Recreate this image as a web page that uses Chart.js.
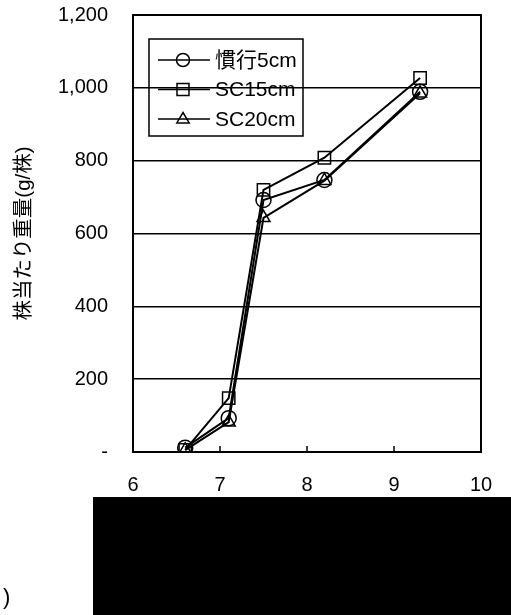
<!DOCTYPE html>
<html>
<head>
<meta charset="utf-8">
<script src="https://cdn.jsdelivr.net/npm/chart.js@4/dist/chart.umd.min.js"></script>
<style>
  html, body { margin: 0; padding: 0; background: #fff; }
  #wrap { width: 511px; height: 615px; position: relative; }
</style>
</head>
<body>
<div id="wrap"><canvas id="growth-chart" width="511" height="615"></canvas></div>
<script>
// values
let xValues = [6.6, 7.1, 7.5, 8.2, 9.3]
let conv5cm = [12, 93, 692, 747, 989]
let sc15cm = [6, 148, 720, 808, 1027]
let sc20cm = [5, 82, 643, 745, 985]

let seriesNames = ['慣行5cm', 'SC15cm', 'SC20cm']
let yTickLabels = ['-', '200', '400', '600', '800', '1,000', '1,200']
let xTickLabels = ['6', '7', '8', '9', '10']
let yTitle = '株当たり重量(g/株)'

let fontFam = 'Arial, "Liberation Sans", "Noto Sans CJK JP", sans-serif'

function toPoints(ys) {
    return ys.map((y, i) => ({x: xValues[i], y: y}))
}

// small marker shapes for the legend box
function marker(ctx, style, x, y, r) {
    ctx.beginPath()
    if (style == 'circle') {
        ctx.arc(x, y, r, 0, Math.PI * 2)
    } else if (style == 'rect') {
        ctx.rect(x - r, y - r, r * 2, r * 2)
    } else {
        ctx.moveTo(x, y - r)
        ctx.lineTo(x + r * 0.95, y + r * 0.6)
        ctx.lineTo(x - r * 0.95, y + r * 0.6)
        ctx.closePath()
    }
    ctx.stroke()
}

let framePlugin = {
    id: 'frame',
    beforeDraw(chart) {
        // legend box sits under the gridlines
        let ctx = chart.ctx
        let a = chart.chartArea
        let bx = a.left + 16, by = a.top + 24
        ctx.save()
        ctx.strokeStyle = '#000'
        ctx.lineWidth = 1.5
        ctx.strokeRect(bx, by, 154, 97)
        ctx.font = '21px ' + fontFam
        ctx.textBaseline = 'middle'
        ctx.fillStyle = '#000'
        let sizes = [6.5, 6, 6.5]
        chart.data.datasets.forEach((ds, i) => {
            let ry = by + 21 + i * 29.5
            ctx.lineWidth = 1.5
            ctx.beginPath()
            ctx.moveTo(bx + 9, ry)
            ctx.lineTo(bx + 61, ry)
            ctx.stroke()
            marker(ctx, ds.pointStyle, bx + 34, ry, sizes[i])
            ctx.fillText(ds.label, bx + 66, ry + 1)
        })
        ctx.restore()
    },
    afterDraw(chart) {
        let ctx = chart.ctx
        let a = chart.chartArea
        let xs = chart.scales.x
        ctx.save()
        ctx.strokeStyle = '#000'
        ctx.lineWidth = 2
        // top and right frame
        ctx.beginPath()
        ctx.moveTo(a.left, a.top)
        ctx.lineTo(a.right, a.top)
        ctx.lineTo(a.right, a.bottom)
        ctx.stroke()
        // inward tick marks on x axis
        ctx.lineWidth = 1.5
        xs.ticks.forEach((t, i) => {
            if (i == 0 || i == xs.ticks.length - 1) return
            let px = xs.getPixelForValue(t.value)
            ctx.beginPath()
            ctx.moveTo(px, a.bottom)
            ctx.lineTo(px, a.bottom - 6)
            ctx.stroke()
        })
        // blacked out block and stray bracket
        ctx.fillStyle = '#000'
        ctx.fillRect(93, 497, 418, 118)
        ctx.font = '22px ' + fontFam
        ctx.textBaseline = 'alphabetic'
        ctx.fillText(')', 3, 604)
        ctx.restore()
    }
}

new Chart(document.getElementById('growth-chart'), {
    type: 'line',
    data: {
        datasets: [
            {label: seriesNames[0], data: toPoints(conv5cm), pointStyle: 'circle', pointRadius: 7.5},
            {label: seriesNames[1], data: toPoints(sc15cm), pointStyle: 'rect', pointRadius: 8.7},
            {label: seriesNames[2], data: toPoints(sc20cm), pointStyle: 'triangle', pointRadius: 7.5}
        ].map(ds => Object.assign(ds, {
            borderColor: '#000',
            borderWidth: 2,
            pointBorderColor: '#000',
            pointBackgroundColor: 'rgba(0,0,0,0)',
            pointBorderWidth: 1.5,
            tension: 0,
            fill: false
        }))
    },
    options: {
        responsive: false,
        animation: false,
        layout: {autoPadding: false, padding: {top: 15, right: 30, left: 0, bottom: 0}},
        plugins: {
            legend: {display: false},
            tooltip: {enabled: false}
        },
        scales: {
            x: {
                type: 'linear',
                min: 6,
                max: 10,
                afterFit: s => { s.height = 163; s.paddingLeft = 0; s.paddingRight = 0 },
                grid: {display: false},
                border: {color: '#000', width: 2},
                ticks: {
                    stepSize: 1,
                    padding: 13,
                    color: '#000',
                    font: {family: fontFam, size: 20},
                    callback: (v, i) => xTickLabels[i]
                }
            },
            y: {
                min: 0,
                max: 1200,
                afterFit: s => { s.width = 133; s.paddingTop = 0; s.paddingBottom = 0 },
                grid: {color: '#000', lineWidth: 1.5, drawTicks: false},
                border: {color: '#000', width: 2},
                ticks: {
                    stepSize: 200,
                    padding: 25,
                    color: '#000',
                    font: {family: fontFam, size: 20},
                    callback: (v, i) => yTickLabels[i]
                },
                title: {
                    display: true,
                    text: yTitle,
                    color: '#000',
                    padding: {top: 12, bottom: 0},
                    font: {family: fontFam, size: 20.5}
                }
            }
        }
    },
    plugins: [framePlugin]
})
</script>
</body>
</html>
